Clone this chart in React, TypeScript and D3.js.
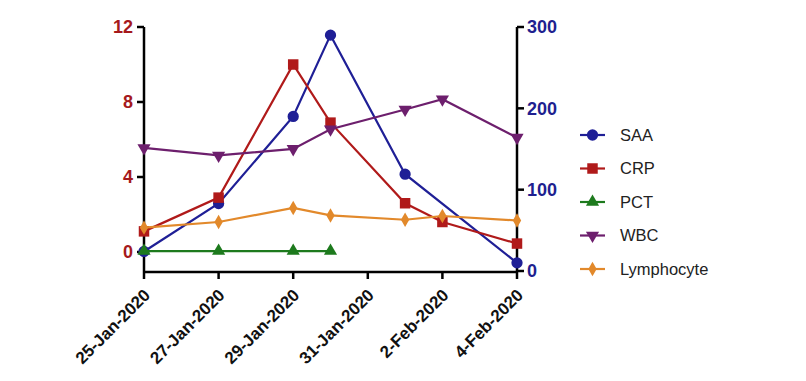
import React from "react";
import * as d3 from "d3";

const dates = ["2020-01-25", "2020-01-27", "2020-01-29", "2020-01-30", "2020-02-01", "2020-02-02", "2020-02-04"];
const tickDates = ["2020-01-25", "2020-01-27", "2020-01-29", "2020-01-31", "2020-02-02", "2020-02-04"];
const tickLabels = ["25-Jan-2020", "27-Jan-2020", "29-Jan-2020", "31-Jan-2020", "2-Feb-2020", "4-Feb-2020"];
const leftTicks = [0, 4, 8, 12];
const rightTicks = [0, 100, 200, 300];

const saa = [24, 83, 190, 290, 119, null, 10];
const crp = [1.1, 2.9, 10.0, 6.9, 2.6, 1.6, 0.45];
const pct = [0.05, 0.05, 0.05, 0.05, null, null, null];
const wbc = [5.55, 5.15, 5.5, 6.55, 7.6, 8.15, 6.1];
const lym = [1.3, 1.6, 2.35, 1.95, 1.72, 1.92, 1.68];

const seriesNames = ["SAA", "CRP", "PCT", "WBC", "Lymphocyte"];
const colors = ["#1f1f96", "#b01a1a", "#1d7a1d", "#6d1f6d", "#e2892b"];
const markers = ["circle", "square", "triangle", "triangleDown", "diamond"];

const parse = d3.timeParse("%Y-%m-%d");

function Marker({ type, x, y, color }: { type: string; x: number; y: number; color: string }) {
  const sym: Record<string, any> = {
    circle: d3.symbolCircle,
    square: d3.symbolSquare,
    triangle: d3.symbolTriangle,
    triangleDown: d3.symbolTriangle,
    diamond: d3.symbolDiamond,
  };
  const size: Record<string, number> = { circle: 100, square: 110, triangle: 75, triangleDown: 75, diamond: 60 };
  const path = d3.symbol(sym[type], size[type])() as string;
  const rot = type === "triangleDown" ? 180 : 0;
  return <path d={path} transform={`translate(${x},${y}) rotate(${rot})`} fill={color} />;
}

export default function App() {
  const W = 806, H = 381;
  const x = d3.scaleTime().domain([parse("2020-01-25")!, parse("2020-02-04")!]).range([144, 517]);
  const yL = d3.scaleLinear().domain([0, 12]).range([252, 27]);
  const yR = d3.scaleLinear().domain([0, 300]).range([271, 27]);
  const axisBottom = 272;

  const series = [
    { vals: saa, y: yR },
    { vals: crp, y: yL },
    { vals: pct, y: yL },
    { vals: wbc, y: yL },
    { vals: lym, y: yL },
  ];

  const font = "Arial, 'Liberation Sans', Helvetica, sans-serif";

  return (
    <svg width={W} height={H} style={{ position: "absolute", left: 0, top: 0, background: "#fff" }} fontFamily={font}>
      {/* left axis */}
      <line x1={144} x2={144} y1={yL(12)} y2={axisBottom} stroke="#000" strokeWidth={2.5} />
      {leftTicks.map((t) => (
        <g key={"l" + t}>
          <line x1={137} x2={144} y1={yL(t)} y2={yL(t)} stroke="#000" strokeWidth={2.5} />
          <text x={133} y={yL(t)} dy="0.35em" textAnchor="end" fontSize={18} fontWeight="bold" fill="#a5191c">
            {t}
          </text>
        </g>
      ))}
      {/* right axis */}
      <line x1={517} x2={517} y1={yR(300)} y2={axisBottom} stroke="#000" strokeWidth={2.5} />
      {rightTicks.map((t) => (
        <g key={"r" + t}>
          <line x1={517} x2={524} y1={yR(t)} y2={yR(t)} stroke="#000" strokeWidth={2.5} />
          <text x={527} y={yR(t)} dy="0.35em" textAnchor="start" fontSize={18} fontWeight="bold" fill="#1f1f8f">
            {t}
          </text>
        </g>
      ))}
      {/* x axis */}
      <line x1={143} x2={518} y1={axisBottom} y2={axisBottom} stroke="#000" strokeWidth={2.5} />
      {tickDates.map((d, i) => {
        const px = x(parse(d)!);
        return (
          <g key={d}>
            <line x1={px} x2={px} y1={axisBottom} y2={axisBottom + 7} stroke="#000" strokeWidth={2.5} />
            <text
              transform={`translate(${px + 3},${axisBottom + 20}) rotate(-45)`}
              textAnchor="end"
              dy="0.35em"
              fontSize={17}
              fontWeight="bold"
              fill="#111"
            >
              {tickLabels[i]}
            </text>
          </g>
        );
      })}
      {/* series */}
      {series.map((s, si) => {
        const pts = dates
          .map((d, i) => ({ d: parse(d)!, v: s.vals[i] }))
          .filter((p) => p.v !== null) as { d: Date; v: number }[];
        const line = d3
          .line<{ d: Date; v: number }>()
          .x((p) => x(p.d))
          .y((p) => s.y(p.v));
        return (
          <g key={seriesNames[si]}>
            <path d={line(pts) as string} fill="none" stroke={colors[si]} strokeWidth={2.2} />
            {pts.map((p, k) => (
              <Marker key={k} type={markers[si]} x={x(p.d)} y={s.y(p.v)} color={colors[si]} />
            ))}
          </g>
        );
      })}
      {/* legend */}
      {seriesNames.map((n, i) => {
        const ly = 135 + i * 33.5;
        return (
          <g key={"lg" + n}>
            <line x1={580} x2={605} y1={ly} y2={ly} stroke={colors[i]} strokeWidth={2.2} />
            <Marker type={markers[i]} x={592.5} y={ly} color={colors[i]} />
            <text x={620} y={ly} dy="0.35em" fontSize={16.5} fill="#222">
              {n}
            </text>
          </g>
        );
      })}
    </svg>
  );
}
